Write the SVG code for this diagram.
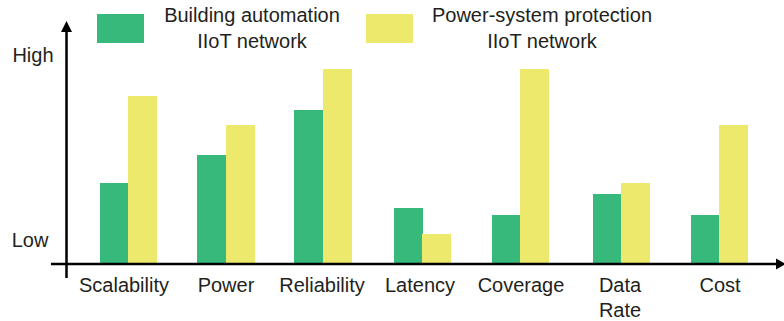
<svg xmlns="http://www.w3.org/2000/svg" width="784" height="321" viewBox="0 0 784 321">
<style>
.t{font-family:"Liberation Sans",Arial,sans-serif;font-size:20px;fill:#231f20;text-anchor:middle}
.g{fill:#38b97c}
.y{fill:#ece96c}
.ax{stroke:#000;stroke-width:2.5;fill:none}
</style>
<rect width="784" height="321" fill="#fff"/>
<g id="legend">
<rect class="g" x="97" y="14" width="47" height="29"/>
<text class="t" x="252" y="22">Building automation</text>
<text class="t" x="252" y="48">IIoT network</text>
<rect class="y" x="366" y="14" width="47" height="29"/>
<text class="t" x="542" y="22">Power-system protection</text>
<text class="t" x="542" y="48">IIoT network</text>
</g>
<g id="bars">
<rect class="g" x="100" y="183" width="28" height="81"/>
<rect class="y" x="128" y="96" width="29" height="168"/>
<rect class="g" x="197" y="155" width="29" height="109"/>
<rect class="y" x="226" y="125" width="29" height="139"/>
<rect class="g" x="294" y="110" width="29" height="154"/>
<rect class="y" x="323" y="69" width="29" height="195"/>
<rect class="g" x="394" y="208" width="29" height="56"/>
<rect class="y" x="422" y="234" width="29" height="30"/>
<rect class="g" x="492" y="215" width="28" height="49"/>
<rect class="y" x="520" y="69" width="29" height="195"/>
<rect class="g" x="593" y="194" width="28" height="70"/>
<rect class="y" x="621" y="183" width="29" height="81"/>
<rect class="g" x="691" y="215" width="28" height="49"/>
<rect class="y" x="719" y="125" width="29" height="139"/>
</g>
<g id="axes">
<line class="ax" x1="66.5" y1="278" x2="66.5" y2="30"/>
<polygon points="66.5,21 61,32 72,32" fill="#000"/>
<line class="ax" x1="51" y1="264" x2="778" y2="264"/>
<polygon points="786,264 776,258.5 776,269.5" fill="#000"/>
</g>
<g id="labels">
<text class="t" x="33" y="62">High</text>
<text class="t" x="30" y="247">Low</text>
<text class="t" x="124" y="292">Scalability</text>
<text class="t" x="226" y="292">Power</text>
<text class="t" x="322" y="292">Reliability</text>
<text class="t" x="420" y="292">Latency</text>
<text class="t" x="521" y="292">Coverage</text>
<text class="t" x="620" y="292">Data</text>
<text class="t" x="620" y="317">Rate</text>
<text class="t" x="720" y="292">Cost</text>
</g>
</svg>
